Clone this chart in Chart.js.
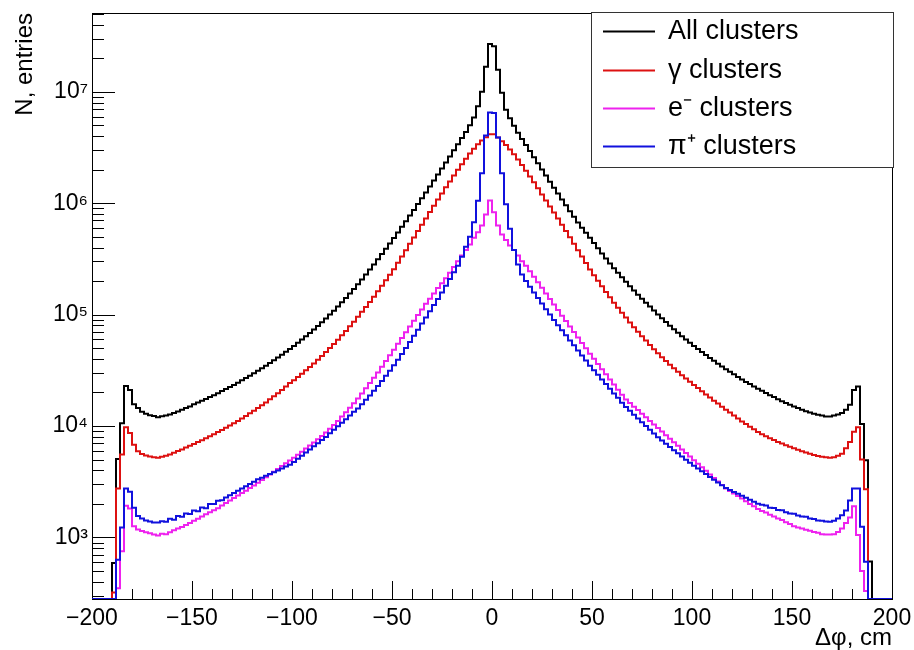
<!DOCTYPE html>
<html>
<head>
<meta charset="utf-8">
<script src="https://cdn.jsdelivr.net/npm/chart.js@4.4.1/dist/chart.umd.min.js"></script>
<style>
html,body{margin:0;padding:0;background:#fff;}
#wrap{width:914px;height:650px;}
</style>
</head>
<body>
<div id="wrap"><canvas id="c" width="914" height="650"></canvas></div>
<script>
// Histogram definition (200 bins of width 2 between -200 and 200)
const histMin = -200;
const histMax = 200;
const binWidth = 2;

const seriesNames = ['All clusters', 'γ clusters', 'e⁻ clusters', 'π⁺ clusters'];
const seriesColors = ['#000000', '#dd1111', '#ee22ee', '#1111dd'];

// Bin contents, bins from -200 to 200
const allClusters = [
  0,0,0,0,0,590,5070,10600,22900,21000,
  15700,14500,13400,12900,12500,12300,12000,12250,12400,12700,
  13100,13500,14000,14500,15000,15700,16300,16900,17500,18200,
  18900,19700,20600,21500,22400,23400,24500,25700,27000,28300,
  29800,31300,33000,34800,36800,38900,41200,43700,46300,49200,
  52400,55800,59700,63800,68400,73500,79100,85300,92300,100000,
  108600,118300,129100,141300,154900,170200,187500,207000,229100,254100,
  282500,314100,349900,389900,435500,487500,547000,613800,688700,774500,
  871000,981700,1107000,1250000,1413000,1596000,1807000,2046000,2317000,2630000,
  2985000,3388000,3846000,4365000,5012000,5888000,7413000,10000000,16790000,26920000,
  25700000,15800000,9800000,6900000,5800000,4950000,4300000,3780000,3330000,2940000,
  2590000,2280000,2010000,1770000,1560000,1380000,1220000,1080000,957000,849000,
  755000,673000,603000,543000,490000,439000,394000,354000,319000,288000,
  261000,237000,216000,197000,180000,165000,151000,139000,128000,118000,
  109000,100000,92700,85900,79600,74000,68900,64100,59800,56000,
  52400,49100,46100,43400,40800,38500,36300,34300,32400,30700,
  29100,27600,26200,24900,23800,22600,21600,20700,19800,18900,
  18200,17400,16700,16100,15500,15000,14500,14000,13600,13200,
  12900,12600,12400,12200,12200,12400,12700,13100,14000,15500,
  21100,22600,10400,4940,607,0,0,0,0,0
];
const gammaClusters = [
  0,0,0,0,0,320,2750,5540,9770,8650,
  6800,5940,5600,5450,5330,5250,5200,5310,5410,5560,
  5750,5960,6170,6400,6640,6900,7180,7460,7780,8110,
  8450,8830,9230,9660,10100,10600,11100,11700,12300,13000,
  13700,14500,15400,16300,17400,18500,19700,21100,22600,24300,
  25800,27500,29400,31600,33900,36500,39400,42600,46100,50100,
  54600,59600,65200,71400,78500,86500,95500,106000,117000,130000,
  145000,162000,182000,203000,228000,256000,292000,333000,379000,433000,
  493000,562000,641000,731000,834000,951000,1080000,1220000,1390000,1570000,
  1770000,2000000,2240000,2510000,2790000,3090000,3390000,3650000,3910000,4170000,
  4170000,3890000,3600000,3330000,3040000,2750000,2470000,2200000,1960000,1740000,
  1540000,1360000,1200000,1060000,935000,825000,728000,641000,563000,494000,
  433000,379000,332000,290000,254000,226000,201000,180000,160000,143000,
  128000,115000,104000,94000,85000,77000,70000,64000,58500,53500,
  49000,45000,41500,38300,35500,33000,30700,28600,26700,25000,
  23300,21900,20500,19200,18000,16900,15900,14900,14000,13200,
  12400,11700,11000,10400,9850,9330,8850,8450,8100,7780,
  7480,7200,6950,6720,6500,6300,6110,5940,5780,5630,
  5500,5390,5300,5250,5200,5230,5400,5650,6300,7200,
  8900,9770,5000,2700,0,0,0,0,0,0
];
const electronClusters = [
  0,0,0,0,0,0,350,750,1920,1820,
  1260,1180,1140,1110,1090,1060,1040,1080,1070,1110,
  1160,1200,1240,1290,1350,1410,1470,1540,1610,1680,
  1750,1830,1930,2040,2150,2260,2380,2500,2630,2770,
  2920,3090,3270,3470,3670,3890,4120,4370,4620,4900,
  5200,5530,5890,6270,6670,7110,7600,8150,8750,9440,
  10200,11100,12200,13300,14600,16000,17700,19600,21800,24300,
  27100,30300,34000,38300,43100,48500,54700,61700,69500,78300,
  88300,99300,111000,125000,139000,155000,173000,191000,212000,238000,
  268000,302000,339000,380000,427000,490000,550000,631000,794000,1060000,
  830000,631000,525000,468000,417000,380000,339000,302000,275000,245000,
  219000,195000,174000,155000,138000,123000,110000,97900,87500,78200,
  69800,62400,55700,49800,44500,40100,36100,32400,29200,26200,
  23600,21200,19100,17300,16100,14900,13900,12900,12000,11100,
  10300,9600,8910,8280,7690,7140,6640,6170,5730,5320,
  4940,4590,4270,3960,3680,3420,3180,2950,2750,2610,
  2480,2350,2230,2110,2000,1900,1800,1730,1670,1600,
  1540,1480,1430,1370,1320,1260,1230,1200,1170,1150,
  1120,1100,1070,1060,1060,1070,1120,1200,1350,1510,
  1900,1050,500,330,0,0,0,0,0,0
];
const pionClusters = [
  0,0,0,0,0,0,630,1230,2750,2570,
  1850,1560,1480,1420,1390,1360,1360,1400,1380,1470,
  1440,1560,1530,1640,1620,1740,1720,1860,1830,2000,
  1990,2130,2160,2280,2390,2510,2630,2750,2880,3020,
  3160,3320,3440,3570,3710,3850,3990,4150,4320,4490,
  4760,5080,5420,5780,6170,6580,7010,7480,7980,8590,
  9250,9950,10700,11500,12400,13400,14400,15700,17200,18800,
  20700,22900,25400,28200,31400,35100,39400,44400,50100,56900,
  64600,73300,83200,94400,107000,122000,138000,158000,182000,209000,
  240000,275000,331000,407000,501000,676000,1050000,1860000,4050000,6530000,
  6450000,3900000,1860000,980000,590000,380000,282000,229000,200000,178000,
  158000,141000,126000,112000,100000,89500,80400,72400,65200,58700,
  53000,47600,43000,38700,34800,31600,28800,26100,23800,21600,
  19600,17900,16200,14800,13700,12600,11700,10800,10000,9250,
  8550,7910,7400,6930,6490,6070,5690,5320,4980,4670,
  4400,4150,3920,3700,3490,3300,3110,2940,2780,2670,
  2560,2460,2370,2270,2180,2090,2010,1960,1930,1850,
  1840,1760,1750,1680,1640,1630,1570,1540,1530,1480,
  1460,1420,1410,1390,1380,1410,1480,1580,1740,2140,
  2750,2750,1245,605,0,0,0,0,0,0
];

const xTickValues = [-200, -150, -100, -50, 0, 50, 100, 150, 200];
const xTickLabels = ['\u2212200', '\u2212150', '\u2212100', '\u221250', '0', '50', '100', '150', '200'];
const yTickValues = [1e3, 1e4, 1e5, 1e6, 1e7];
const yTickLabels = ['10\u00B3', '10\u2074', '10\u2075', '10\u2076', '10\u2077'];
const xTitle = '\u0394\u03C6, cm';
const yTitle = 'N, entries';
const yMin = 280, yMax = 5.1e7;

const FONT = "'Liberation Sans', Arial, Helvetica, sans-serif";

// Empty bins are drawn on the frame floor of the log axis (as ROOT does)
function toPoints(vals) {
  const pts = vals.map((v, i) => ({ x: histMin + i * binWidth, y: v > 0 ? v : yMin }));
  const last = vals[vals.length - 1];
  pts.push({ x: histMax, y: last > 0 ? last : yMin });
  return pts;
}

const seriesData = [allClusters, gammaClusters, electronClusters, pionClusters];

const rootAxes = {
  id: 'rootAxes',
  beforeDatasetsDraw(chart) {
    const { ctx, chartArea: a, scales: { x, y } } = chart;
    ctx.save();
    ctx.strokeStyle = '#000';
    ctx.lineWidth = 1;
    // frame
    ctx.strokeRect(Math.round(a.left) + 0.5, Math.round(a.top) + 0.5,
      Math.round(a.right - a.left), Math.round(a.bottom - a.top));
    // y ticks (log: major + minor)
    ctx.beginPath();
    const d0 = Math.floor(Math.log10(yMin)), d1 = Math.ceil(Math.log10(yMax));
    for (let d = d0; d <= d1; d++) {
      for (let m = 1; m <= 9; m++) {
        const v = m * Math.pow(10, d);
        if (v < yMin || v > yMax) continue;
        const py = Math.round(y.getPixelForValue(v)) + 0.5;
        const len = (m === 1) ? 23 : 12;
        ctx.moveTo(a.left, py);
        ctx.lineTo(a.left + len, py);
      }
    }
    // x ticks
    for (let v = histMin; v <= histMax; v += 10) {
      const px = Math.round(x.getPixelForValue(v)) + 0.5;
      const len = (v % 50 === 0) ? 18 : 10;
      ctx.moveTo(px, a.bottom);
      ctx.lineTo(px, a.bottom - len);
    }
    ctx.stroke();
    ctx.restore();
  },
  afterDraw(chart) {
    const { ctx, chartArea: a } = chart;
    ctx.save();
    // legend
    const lw = 302, lh = 155;
    const lx = Math.round(a.right) - lw + 1, ly = Math.round(a.top) - 1;
    ctx.fillStyle = '#fff';
    ctx.fillRect(lx, ly, lw, lh);
    ctx.strokeStyle = '#333';
    ctx.lineWidth = 1;
    ctx.strokeRect(lx + 0.5, ly + 0.5, lw, lh);
    const rows = [19, 58, 96, 134];
    ctx.font = "27px " + FONT;
    ctx.textBaseline = 'middle';
    ctx.textAlign = 'left';
    chart.data.datasets.forEach((ds, i) => {
      const ry = ly + rows[i] + 0.5;
      ctx.strokeStyle = ds.borderColor;
      ctx.lineWidth = 2;
      ctx.beginPath();
      ctx.moveTo(lx + 12, ry);
      ctx.lineTo(lx + 64, ry);
      ctx.stroke();
      ctx.fillStyle = '#000';
      ctx.fillText(ds.label, lx + 77, ry);
    });
    ctx.restore();
  }
};

new Chart(document.getElementById('c'), {
  type: 'line',
  data: {
    datasets: seriesNames.map((name, i) => ({
      label: name,
      data: toPoints(seriesData[i]),
      borderColor: seriesColors[i],
      backgroundColor: seriesColors[i],
      borderWidth: 2,
      pointRadius: 0,
      stepped: 'before',
      fill: false,
      order: 3 - i
    }))
  },
  options: {
    responsive: false,
    animation: false,
    devicePixelRatio: 1,
    layout: { padding: { left: 0, top: 13, right: 22, bottom: 0 } },
    plugins: { legend: { display: false }, tooltip: { enabled: false } },
    scales: {
      x: {
        type: 'linear',
        min: histMin,
        max: histMax,
        grid: { display: false, drawTicks: false },
        border: { display: false },
        ticks: {
          autoSkip: false, maxRotation: 0, padding: 6, color: '#000',
          font: { family: FONT, size: 23 },
          callback: (v, i) => xTickLabels[i]
        },
        afterBuildTicks: (s) => { s.ticks = xTickValues.map(v => ({ value: v })); },
        afterFit: (s) => { s.height = 51; s.paddingLeft = 0; s.paddingRight = 0; },
        title: { display: true, text: xTitle, align: 'end', color: '#000',
          font: { family: FONT, size: 24, lineHeight: 1 }, padding: { top: 0, bottom: 0 } }
      },
      y: {
        type: 'logarithmic',
        min: yMin,
        max: yMax,
        grid: { display: false, drawTicks: false },
        border: { display: false },
        ticks: {
          autoSkip: false, padding: 4, color: '#000',
          font: { family: FONT, size: 23 },
          callback: (v, i) => yTickLabels[i]
        },
        afterBuildTicks: (s) => { s.ticks = yTickValues.map(v => ({ value: v })); },
        afterFit: (s) => { s.width = 92; s.paddingTop = 0; s.paddingBottom = 0; },
        title: { display: true, text: yTitle, align: 'end', color: '#000',
          font: { family: FONT, size: 24, lineHeight: 1 }, padding: { top: 13, bottom: 0 } }
      }
    }
  },
  plugins: [rootAxes]
});
</script>
</body>
</html>
